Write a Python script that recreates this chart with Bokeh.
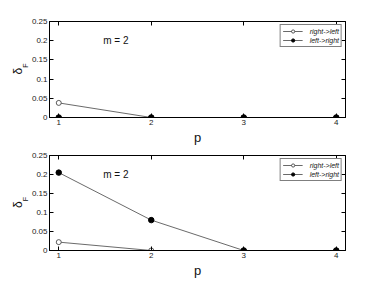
from bokeh.plotting import figure
from bokeh.layouts import column
from bokeh.models import (LinearAxis, FixedTicker, Label, Range1d, Legend, LegendItem,
                          ColumnDataSource)
from bokeh.embed import file_html
from bokeh.resources import INLINE

p_vals = [1, 2, 3, 4]
top_right_left = [0.038, 0.0, 0.0, 0.0]
top_left_right = [0.0, 0.0, 0.0, 0.0]
bot_right_left = [0.022, 0.0, 0.0, 0.0]
bot_left_right = [0.205, 0.08, 0.0, 0.0]
y_ticks = [0, 0.05, 0.1, 0.15, 0.2, 0.25]
y_tick_labels = ["0", "0.05", "0.1", "0.15", "0.2", "0.25"]
x_ticks = [1, 2, 3, 4]
series_names = ["right->left", "left->right"]
annotation = "m = 2"
x_label = "p"
y_label_main = "δ"
y_label_sub = "F"
FONT = "Liberation Sans"
NBSP = "\u00a0"


def make_panel(rl, lr, border_top, frame_h, border_bottom):
    p = figure(width=374, height=border_top + frame_h + border_bottom,
               output_backend="svg", toolbar_location=None,
               x_range=Range1d(0.9, 4.1), y_range=Range1d(0, 0.25),
               min_border_left=49, min_border_right=29,
               min_border_top=border_top, min_border_bottom=border_bottom)
    p.xgrid.visible = False
    p.ygrid.visible = False
    p.outline_line_color = "black"
    p.outline_line_width = 1
    p.background_fill_color = "white"
    p.border_fill_color = "white"

    for ax in p.xaxis:
        ax.ticker = FixedTicker(ticks=x_ticks)
        ax.major_label_overrides = {t: str(t) for t in x_ticks}
    for ax in p.yaxis:
        ax.ticker = FixedTicker(ticks=y_ticks)
        ax.major_label_overrides = {t: l for t, l in zip(y_ticks, y_tick_labels)}

    for ax in list(p.xaxis) + list(p.yaxis):
        ax.major_tick_in = 4
        ax.major_tick_out = 0
        ax.minor_tick_in = 0
        ax.minor_tick_out = 0
        ax.axis_line_color = "black"
        ax.major_tick_line_color = "black"
        ax.major_label_text_font = FONT
        ax.major_label_text_font_size = "8px"
        ax.major_label_text_color = "#222222"

    p.xaxis.major_label_standoff = 2
    p.xaxis.axis_label = x_label
    p.xaxis.axis_label_text_font = FONT
    p.xaxis.axis_label_text_font_size = "13px"
    p.xaxis.axis_label_text_font_style = "normal"
    p.xaxis.axis_label_text_color = "#111111"
    p.xaxis.axis_label_standoff = 2

    p.yaxis.major_label_standoff = 2
    # subscript F, shifted along the axis with non-breaking spaces
    p.yaxis.axis_label = NBSP * 4 + y_label_sub
    p.yaxis.axis_label_text_font = FONT
    p.yaxis.axis_label_text_font_size = "7px"
    p.yaxis.axis_label_text_font_style = "normal"
    p.yaxis.axis_label_text_color = "#111111"
    p.yaxis.axis_label_standoff = 0

    # outer axis carrying the delta symbol
    delta_axis = LinearAxis(ticker=FixedTicker(ticks=[]), axis_line_color=None,
                            major_tick_line_color=None, minor_tick_line_color=None,
                            axis_label=y_label_main + NBSP, axis_label_text_font=FONT,
                            axis_label_text_font_size="12px",
                            axis_label_text_font_style="normal",
                            axis_label_text_color="#111111",
                            axis_label_standoff=-6)
    p.add_layout(delta_axis, "left")

    # mirrored axes (box with ticks), no labels
    right = LinearAxis(ticker=FixedTicker(ticks=y_ticks),
                       major_label_overrides={t: "" for t in y_ticks},
                       major_label_standoff=0,
                       major_tick_in=4, major_tick_out=0, minor_tick_in=0, minor_tick_out=0,
                       axis_line_color="black")
    top = LinearAxis(ticker=FixedTicker(ticks=x_ticks),
                     major_label_overrides={t: "" for t in x_ticks},
                     major_label_standoff=0,
                     major_tick_in=4, major_tick_out=0, minor_tick_in=0, minor_tick_out=0,
                     axis_line_color="black")
    p.add_layout(right, "right")
    p.add_layout(top, "above")

    src_rl = ColumnDataSource(dict(x=p_vals, y=rl))
    src_lr = ColumnDataSource(dict(x=p_vals, y=lr))
    l1 = p.line("x", "y", source=src_rl, line_color="#444444", line_width=0.8)
    c1 = p.scatter("x", "y", source=src_rl, size=5, marker="circle",
                   fill_color="white", line_color="#333333", line_width=0.8)
    l2 = p.line("x", "y", source=src_lr, line_color="#444444", line_width=0.8)
    c2 = p.scatter("x", "y", source=src_lr, size=5.5, marker="circle",
                   fill_color="black", line_color="black")

    legend = Legend(items=[LegendItem(label=series_names[0], renderers=[l1, c1]),
                           LegendItem(label=series_names[1], renderers=[l2, c2])],
                    location="top_right")
    legend.label_text_font = FONT
    legend.label_text_font_style = "italic"
    legend.label_text_font_size = "7px"
    legend.label_text_color = "#222222"
    legend.label_height = 8
    legend.glyph_height = 8
    legend.glyph_width = 20
    legend.spacing = 1
    legend.padding = 2
    legend.margin = 3
    legend.label_standoff = 7
    legend.border_line_color = "black"
    legend.border_line_width = 1
    legend.background_fill_alpha = 1
    p.add_layout(legend)

    p.add_layout(Label(x=1.48, y=0.2, text=annotation, text_font=FONT,
                       text_font_size="10px", text_baseline="middle",
                       text_color="#111111"))
    return p


p1 = make_panel(top_right_left, top_left_right, 21, 96, 30)
p2 = make_panel(bot_right_left, bot_left_right, 8, 95, 30)
layout = column(p1, p2, spacing=0)

open("out.html", "w").write(file_html(layout, INLINE))
